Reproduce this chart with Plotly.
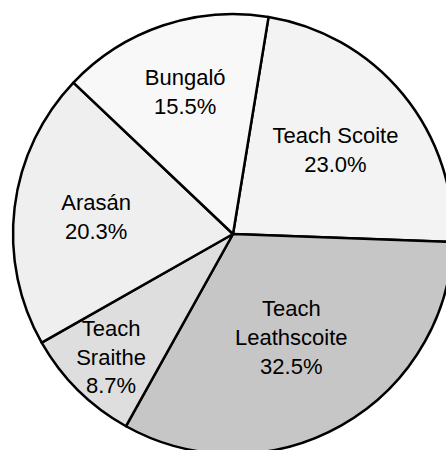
import plotly.graph_objects as go

labels = ["Teach Scoite", "Teach Leathscoite", "Teach Sraithe", "Arasán", "Bungaló"]
display_labels = ["Teach Scoite", "Teach<br>Leathscoite", "Teach<br>Sraithe", "Arasán", "Bungaló"]
values = [23.0, 32.5, 8.7, 20.3, 15.5]
colors = ["#f3f3f3", "#c6c6c6", "#dedede", "#efefef", "#f8f8f8"]

fig = go.Figure(go.Pie(
    labels=labels,
    values=values,
    text=display_labels,
    texttemplate="%{text}<br>%{percent:.1%}",
    textposition="inside",
    insidetextorientation="horizontal",
    sort=False,
    direction="clockwise",
    rotation=9.3,
    marker=dict(colors=colors, line=dict(color="black", width=2.5)),
    textfont=dict(family="Liberation Sans, Arial", size=22, color="black"),
    hoverinfo="label+percent",
    showlegend=False,
))

fig.update_layout(
    width=466, height=468,
    margin=dict(l=13, r=13, t=14, b=14),
    paper_bgcolor="white",
    plot_bgcolor="white",
    uniformtext=dict(minsize=22, mode="show"),
)

fig.write_html(
    "out.html",
    config={"displayModeBar": False},
    post_script="document.body.style.margin='0';document.body.style.overflow='hidden';",
)
